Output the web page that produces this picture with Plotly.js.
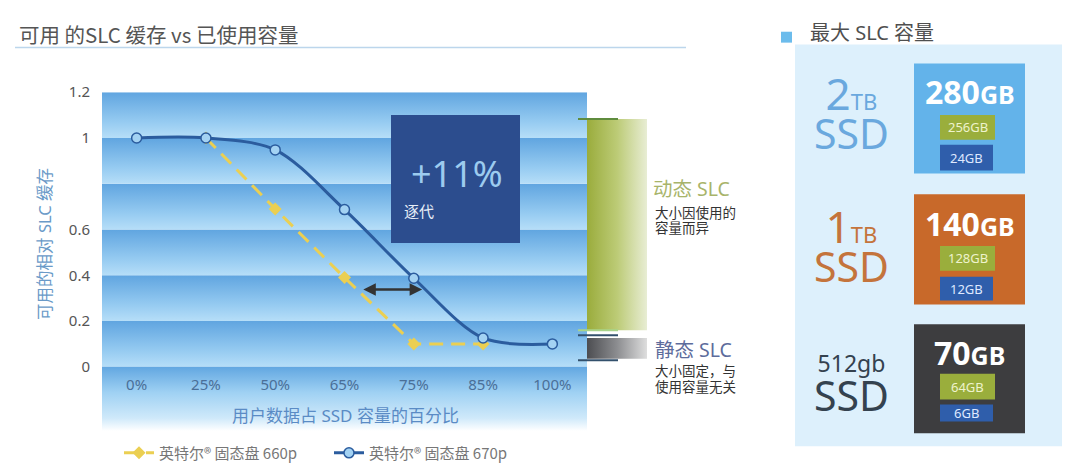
<!DOCTYPE html>
<html><head><meta charset="utf-8">
<script src="https://cdn.plot.ly/plotly-3.0.1.min.js"></script>
<style>html,body{margin:0;padding:0;background:#fff}#chart{width:1080px;height:470px}</style>
</head><body><div id="chart"></div>
<script>
// ---------- data ----------
const categories = ['0%', '25%', '50%', '65%', '75%', '85%', '100%'];
const ssd670 = [1, 1, 0.948, 0.687, 0.387, 0.126, 0.1];
const ssd660 = [null, 1, 0.69, 0.39, 0.10, 0.10, null];
const seriesNames = ['英特尔® 固态盘 660p', '英特尔® 固态盘 670p'];
const yTickVals = [0, 0.2, 0.4, 0.6, 1, 1.2];
const yTickText = ['0', '0.2', '0.4', '0.6', '1', '1.2'];
const dynamicSLCRange = [0.16, 1.083];
const staticSLCRange = [0.035, 0.126];
const driveNum = ['2', '1', '512gb'];
const driveUnit = ['TB', 'TB', ''];
const totalSLC = [280, 140, 70];
const dynamicSLC = [256, 128, 64];
const staticSLC = [24, 12, 6];
const genGain = '+11%';

// ---------- helpers ----------
const W = 1080, H = 470;
const PX = x => x / W;
const PY = y => 1 - y / H;
const FONT = 'Noto Sans, Noto Sans CJK SC, sans-serif';
const CJK = 'Noto Sans CJK SC, Noto Sans, sans-serif';

const traces = [];
// background bands
const bandScale = [[0, '#b6def8'], [0.35, '#96cbf1'], [1, '#60a5e0']];
for (let k = 0; k < 6; k++) {
  const v0 = k * 0.2, v1 = v0 + 0.2;
  traces.push({type: 'scatter', mode: 'none', x: [-0.5, 6.5, 6.5, -0.5, -0.5], y: [v0, v0, v1, v1, v0],
    fill: 'toself', fillgradient: {type: 'vertical', colorscale: bandScale},
    hoverinfo: 'skip', showlegend: false});
}
traces.push({type: 'scatter', mode: 'none', x: [-0.5, 6.5, 6.5, -0.5, -0.5], y: [-0.28, -0.28, 0, 0, -0.28],
  fill: 'toself', fillgradient: {type: 'vertical', colorscale: [[0, '#ffffff'], [0.2, '#cfe9fa'], [0.6, '#9fd1f3'], [1, '#62a7e1']]},
  hoverinfo: 'skip', showlegend: false});
// dynamic / static SLC bars
traces.push({type: 'scatter', mode: 'none', xaxis: 'x2', yaxis: 'y',
  x: [0, 1, 1, 0, 0], y: [dynamicSLCRange[0], dynamicSLCRange[0], dynamicSLCRange[1], dynamicSLCRange[1], dynamicSLCRange[0]],
  fill: 'toself', fillgradient: {type: 'horizontal', colorscale: [[0, '#9aac3c'], [0.5, '#bccb76'], [1, '#e8edd4']]},
  hoverinfo: 'skip', showlegend: false});
traces.push({type: 'scatter', mode: 'none', xaxis: 'x2', yaxis: 'y',
  x: [0, 1, 1, 0, 0], y: [staticSLCRange[0], staticSLCRange[0], staticSLCRange[1], staticSLCRange[1], staticSLCRange[0]],
  fill: 'toself', fillgradient: {type: 'horizontal', colorscale: [[0, '#4c4d51'], [0.5, '#8c8d90'], [1, '#dedede']]},
  hoverinfo: 'skip', showlegend: false});
// series
const xIdx = categories.map((c, i) => i);
traces.push({type: 'scatter', mode: 'lines+markers', name: seriesNames[0], x: xIdx, y: ssd660,
  line: {color: '#ebcf52', width: 3, dash: '14px,8px'},
  marker: {symbol: 'diamond', size: 10, color: '#ebcf52'}});
traces.push({type: 'scatter', mode: 'lines+markers', name: seriesNames[1], x: xIdx, y: ssd670,
  line: {color: '#2b5c9e', width: 3, shape: 'spline', smoothing: 0.9},
  marker: {symbol: 'circle', size: 10, color: '#a3d2f3', line: {color: '#2b5c9e', width: 1.5}}});

// ---------- shapes ----------
const shapes = [];
const rect = (x0, y0, x1, y1, color) => ({type: 'rect', xref: 'paper', yref: 'paper',
  x0: PX(x0), x1: PX(x1), y0: PY(y1), y1: PY(y0), fillcolor: color, line: {width: 0}, layer: 'below'});
shapes.push({type: 'line', xref: 'paper', yref: 'paper', x0: PX(15), x1: PX(686), y0: PY(48), y1: PY(48),
  line: {color: '#bcd6ec', width: 1.5}});
shapes.push(Object.assign(rect(391, 116, 520, 245, '#2c4d8e'), {layer: 'above'}));
// bar edge ticks
const edge = (y, color) => ({type: 'line', xref: 'paper', yref: 'y', x0: PX(578), x1: PX(618), y0: y, y1: y,
  line: {color: color, width: 2}});
shapes.push(edge(dynamicSLCRange[1], '#5f8c3e'));
shapes.push(edge(dynamicSLCRange[0], '#a8d48a'));
shapes.push(edge(staticSLCRange[1] + 0.012, '#33506c'));
shapes.push(edge(staticSLCRange[0] - 0.006, '#33506c'));
// right panel
shapes.push(rect(781, 32, 792, 43, '#6cbcec'));
shapes.push(rect(795, 45, 1062, 450, '#ddf0fc'));
const rowMain = [[64, 175], [196, 307], [327, 437]];
const rowGreen = [[116, 141], [248, 273], [377, 403]];
const rowBlue = [[146, 172], [279, 303], [408, 425]];
const mainColors = ['#63b3ea', '#c8692a', '#3d3d3f'];
for (let i = 0; i < 3; i++) {
  shapes.push(rect(914, rowMain[i][0], 1025, rowMain[i][1], mainColors[i]));
  shapes.push(rect(940, rowGreen[i][0], 995, rowGreen[i][1], '#9aae3c'));
  shapes.push(rect(940, rowBlue[i][0], 993, rowBlue[i][1], '#2f5eab'));
}

// ---------- annotations ----------
const ann = [];
const txt = (x, y, text, size, color, xanchor, extra) => Object.assign({xref: 'paper', yref: 'paper',
  x: PX(x), y: PY(y), text: text, showarrow: false, xanchor: xanchor || 'left', yanchor: 'middle',
  font: {family: FONT, size: size, color: color}}, extra || {});
ann.push(txt(808, 33, '最大 SLC 容量', 20, '#4f4f4f'));
const driveColors = ['#6aa8de', '#c4743c', '#34424f'];
const driveY = [113, 247, 388], totY = [92, 225, 356];
for (let i = 0; i < 3; i++) {
  const first = driveUnit[i]
    ? `<span style="font-size:44px">${driveNum[i]}</span><span style="font-size:22px">${driveUnit[i]}</span>`
    : `<span style="font-size:23px">${driveNum[i]}</span>`;
  const label = `${first}<br><span style="font-size:41px">SSD</span>`;
  ann.push(txt(851, driveY[i], label, 30, driveColors[i], 'center', {align: 'center'}));
  ann.push(txt(969.5, totY[i], `<b>${totalSLC[i]}<span style="font-size:25px">GB</span></b>`, 32, '#ffffff', 'center'));
  ann.push(txt(967.5, (rowGreen[i][0] + rowGreen[i][1]) / 2, `${dynamicSLC[i]}GB`, 13, '#eef3cc', 'center'));
  ann.push(txt(966.5, (rowBlue[i][0] + rowBlue[i][1]) / 2, `${staticSLC[i]}GB`, 13, '#dfe9ff', 'center'));
}
ann.push(txt(457, 175, genGain, 36, '#9ccbef', 'center'));
ann.push(txt(402, 213, '逐代', 15, '#e6eef8'));
ann.push(txt(651, 190, '动态 SLC', 19.5, '#a8b46a'));
ann.push(txt(653, 215, '大小因使用的', 13.5, '#333333'));
ann.push(txt(653, 230, '容量而异', 13.5, '#333333'));
ann.push(txt(653, 352, '静态 SLC', 19.5, '#5d6c9c'));
ann.push(txt(653, 374, '大小固定，与', 13.5, '#333333'));
ann.push(txt(653, 390, '使用容量无关', 13.5, '#333333'));
// axis titles
ann.push(txt(345, 419, '用户数据占 SSD 容量的百分比', 17, '#5a8bc5', 'center'));
ann.push(txt(45, 246, '可用的相对 SLC 缓存', 16.5, '#6a9ac8', 'center', {textangle: -90}));
// generation gap arrow
ann.push({xref: 'x', yref: 'y', axref: 'x', ayref: 'y', x: 4.12, y: 0.338, ax: 3.25, ay: 0.338, text: '',
  showarrow: true, arrowside: 'end+start', arrowhead: 2, arrowsize: 1, arrowwidth: 2.5, arrowcolor: '#333333'});

const layout = {
  width: W, height: H,
  margin: {l: 0, r: 0, t: 0, b: 0, pad: 0},
  paper_bgcolor: '#ffffff', plot_bgcolor: 'rgba(0,0,0,0)',
  font: {family: FONT, color: '#555555'},
  title: {text: '可用 的SLC 缓存 vs 已使用容量', x: PX(19), xanchor: 'left', xref: 'paper',
    y: PY(36), yanchor: 'middle', yref: 'paper', font: {family: CJK, size: 20.5, color: '#555555'}},
  xaxis: {domain: [PX(102), PX(587)], range: [-0.5, 6.5], tickvals: xIdx, ticktext: categories,
    anchor: 'free', position: PY(377), showgrid: false, zeroline: false, showline: false, ticks: '',
    tickfont: {family: FONT, size: 15, color: '#4a6f98'}, fixedrange: true},
  xaxis2: {domain: [PX(587), PX(647)], range: [0, 1], anchor: 'y', visible: false, fixedrange: true},
  yaxis: {domain: [PY(434.6), PY(93)], range: [-0.28, 1.2], tickvals: yTickVals, ticktext: yTickText,
    showgrid: false, zeroline: false, showline: false, ticks: '', ticklabelstandoff: 11,
    tickfont: {family: FONT, size: 15, color: '#555555'}, fixedrange: true},
  showlegend: true,
  legend: {orientation: 'h', x: PX(119), y: PY(457), xanchor: 'left', yanchor: 'middle',
    bgcolor: 'rgba(0,0,0,0)', font: {family: CJK, size: 15, color: '#777777'},
    entrywidth: 165, entrywidthmode: 'pixels', traceorder: 'normal'},
  hovermode: false,
  shapes: shapes,
  annotations: ann
};
Plotly.newPlot('chart', traces, layout, {displayModeBar: false, staticPlot: true});
</script></body></html>
